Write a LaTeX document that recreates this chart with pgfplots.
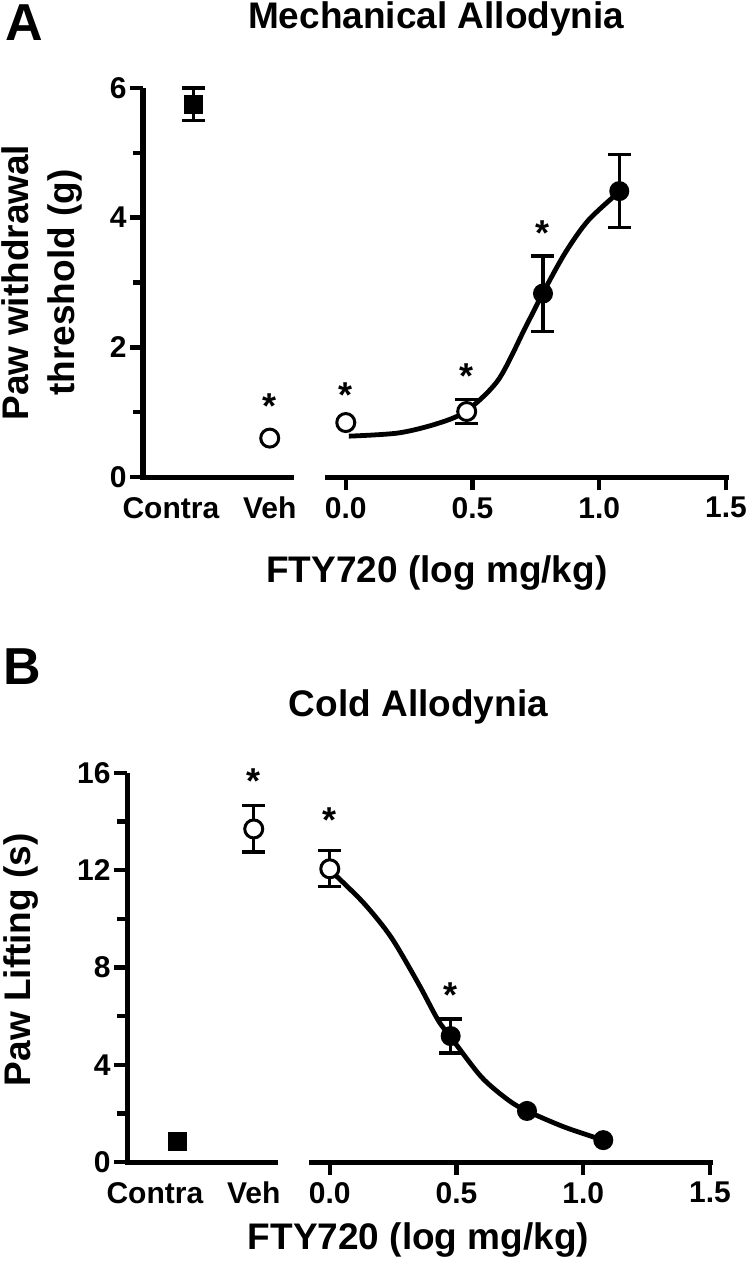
\documentclass[border=0pt]{standalone}
\usepackage{pgfplots}
\pgfplotsset{compat=1.18}
\usepackage{fontspec}
\setmainfont{Liberation Sans}

\pgfplotsset{
  fig/.style={
    scale only axis, width=291.5pt, height=194.5pt,
    clip=false,
    axis y line*=left, axis x line*=bottom,
    x axis line style={draw=none},
    y axis line style={-, line width=2.5pt},
    xmin=-0.8, xmax=1.5, ymin=0,
    tick align=outside, major tick length=6.5pt, minor tick length=5pt,
    tick style={line width=2.2pt, black},
    xtick={0,0.5,1,1.5},
    x tick label style={/pgf/number format/.cd, fixed, fixed zerofill, precision=1, /tikz/.cd},
    extra x ticks={-0.69,-0.3}, extra x tick labels={Contra,Veh},
    extra x tick style={tick style={draw=none}},
    /pgf/number format/assume math mode=true,
    ticklabel style={font=\fontsize{15}{18}\selectfont\bfseries},
    y tick label style={inner sep=1.5pt},
    every axis title/.style={at={(0.5,1)}, anchor=base, font=\fontsize{18.5}{22}\selectfont\bfseries},
    label style={font=\fontsize{18.5}{23}\selectfont\bfseries},
    error bars/error bar style={line width=1.6pt, black},
    error bars/error mark options={rotate=90, mark size=5.75pt, line width=1.6pt, black},
  },
  witherr/.style={error bars/y dir=both, error bars/y explicit},
  contra/.style={only marks, mark=square*, mark size=4.3pt, black, mark options={line width=1pt, fill=black}},
  open/.style={only marks, mark=*, mark size=4.5pt, black, mark options={line width=1.5pt, fill=white}},
  filled/.style={only marks, mark=*, mark size=4.4pt, black, mark options={line width=1.2pt, fill=black}},
  curve/.style={no marks, smooth, black, line width=2.4pt},
  stars/.style={only marks, mark=none, nodes near coords, point meta=explicit symbolic,
    nodes near coords style={anchor=center, yshift=-4pt, font=\fontsize{18}{18}\selectfont\bfseries}},
}
\tikzset{axseg/.style={line width=2.5pt, line cap=rect, black}}

\begin{document}
\begin{tikzpicture}
\useasboundingbox (0,0) rectangle (376pt,-640pt);
\node[anchor=north west, inner sep=0pt, font=\fontsize{26}{26}\selectfont\bfseries] at (2.5pt,-2pt) {A};
\node[anchor=north west, inner sep=0pt, font=\fontsize{26}{26}\selectfont\bfseries] at (1.5pt,-324pt) {B};

% Panel A: mechanical allodynia
\begin{axis}[fig, at={(71.5pt,-238.5pt)}, anchor=south west,
  ymax=6, ytick={0,2,4,6}, minor y tick num=1,
  title={Mechanical Allodynia}, title style={at={(0.503,1.152)}},
  xlabel={FTY720 (log mg/kg)}, xlabel style={at={(0.504,-0.247)}, anchor=center},
  ylabel={Paw withdrawal\\threshold (g)}, ylabel style={at={(-0.173,0.5)}, anchor=center, align=center}]
\addplot[contra, witherr] coordinates {(-0.6,5.75) +- (0,0.25)};
\addplot[open] coordinates {(-0.3,0.60) (0,0.84)};
\addplot[open, witherr] coordinates {(0.477,1.01) +- (0,0.18)};
\addplot[filled, witherr] coordinates {(0.778,2.83) +- (0,0.58) (1.079,4.41) +- (0,0.56)};
\addplot[curve] coordinates {(0.012,0.63) (0.209,0.68) (0.366,0.83) (0.476,1.02) (0.602,1.50)
  (0.709,2.31) (0.778,2.84) (0.866,3.46) (0.957,3.96) (1.079,4.40)};
\addplot[stars] coordinates {(-0.3,1.22) [*] (0,1.39) [*] (0.477,1.68) [*] (0.778,3.89) [*]};
\draw[axseg] (axis cs:-0.8,0) -- (axis cs:-0.215,0);
\draw[axseg] (axis cs:-0.073,0) -- (axis cs:1.5,0);
\end{axis}

% Panel B: cold allodynia
\begin{axis}[fig, at={(63.5pt,-581pt)}, anchor=south west,
  ymax=16, ytick={0,4,8,12,16}, minor y tick num=1,
  title={Cold Allodynia}, title style={at={(0.50,1.144)}},
  xlabel={FTY720 (log mg/kg)}, xlabel style={at={(0.50,-0.20)}, anchor=center},
  ylabel={Paw Lifting (s)}, ylabel style={at={(-0.181,0.52)}, anchor=center}]
\addplot[contra] coordinates {(-0.6,0.86)};
\addplot[open, witherr] coordinates {(-0.3,13.7) +- (0,0.95) (0,12.06) +- (0,0.74)};
\addplot[filled, witherr] coordinates {(0.477,5.18) +- (0,0.70)};
\addplot[filled] coordinates {(0.778,2.1) (1.079,0.9)};
\addplot[curve] coordinates {(0.012,11.9) (0.134,10.65) (0.241,9.26) (0.348,7.37) (0.427,5.84)
  (0.477,5.14) (0.598,3.50) (0.704,2.55) (0.778,2.10) (0.925,1.44) (1.079,0.90)};
\addplot[stars] coordinates {(-0.3,16.0) [*] (0,14.4) [*] (0.477,7.2) [*]};
\draw[axseg] (axis cs:-0.8,0) -- (axis cs:-0.215,0);
\draw[axseg] (axis cs:-0.073,0) -- (axis cs:1.5,0);
\end{axis}
\end{tikzpicture}
\end{document}
